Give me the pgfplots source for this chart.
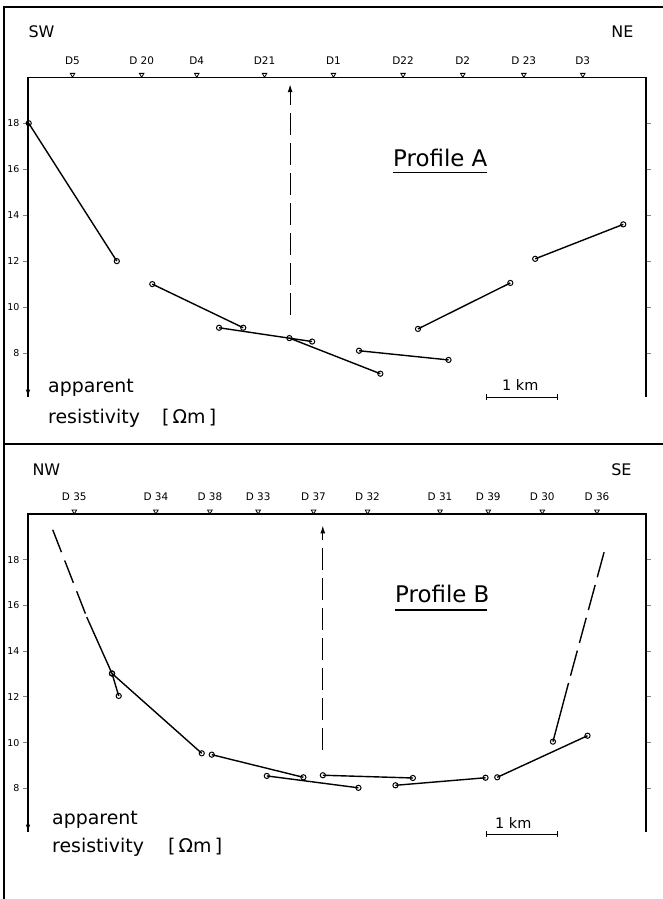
\documentclass[border=0pt]{standalone}
\usepackage{fontspec}
\setmainfont{DejaVu Sans}
\usepackage{pgfplots}
\pgfplotsset{compat=1.18}
\usetikzlibrary{arrows.meta}

\tikzset{frame3/.style={line width=1.2bp}}

% 1 px of the reference = 1 bp; x data in km from the left axis line
\pgfplotsset{
  profile/.style={
    scale only axis, width=618bp,
    xmin=0, xmax=8.70, ymin=6.1, ymax=20,
    axis line style={draw=none},
    tick align=outside, major tick length=5bp,
    ytick={8,10,...,18}, ytick pos=both, yticklabel pos=left,
    ytick style={line width=0.9bp},
    yticklabel style={font=\fontsize{9.5}{10}\selectfont},
    xtick style={draw=none}, xticklabel pos=upper,
    xticklabel style={font=\fontsize{10.5}{11}\selectfont, yshift=4.5bp},
    /pgf/number format/assume math mode=true,
    clip=false,
  },
  seg/.style={black, line width=1.4bp, mark=o, mark size=2.6bp,
    mark options={solid, fill=white, line width=1bp}},
  ext/.style={black, line width=1.4bp},
  station/.style={only marks, mark=triangle, mark size=2.6bp,
    mark options={yshift=2.6bp, rotate=180, line width=0.8bp, fill=white}},
  bore/.style={black, line width=1.2bp, dash pattern=on 22bp off 8bp,
    -{Latex[length=8bp,width=5bp]}},
}

\begin{document}
\begin{tikzpicture}
\useasboundingbox (0bp,0bp) rectangle (663bp,899bp);
\draw[line width=1.3bp] (4bp,0bp) -- (4bp,892bp) -- (663bp,892bp);
\draw[line width=1.3bp] (4bp,455bp) -- (663bp,455bp);

% ---------------- Profile A ----------------
\begin{axis}[profile, at={(28bp,502.3bp)}, anchor=south west, height=319.4bp,
    xtick={0.627,1.60,2.376,3.33,4.30,5.28,6.12,6.98,7.81},
    xticklabels={D5,D 20,D4,D21,D1,D22,D2,D 23,D3}]
  \draw[frame3] (rel axis cs:0,0) -- (rel axis cs:0,1) -- (rel axis cs:1,1) -- (rel axis cs:1,0);
  \draw[frame3, -{Latex[length=7bp,width=4.5bp]}] (axis cs:0,6.8) -- (axis cs:0,6.1);
  \addplot[station] coordinates {(0.627,20) (1.60,20) (2.376,20) (3.33,20) (4.30,20)
    (5.28,20) (6.12,20) (6.98,20) (7.81,20)};
  \addplot[bore] coordinates {(3.69,9.67) (3.69,19.7)};
  \addplot[seg] coordinates {(0.01,18.0) (1.25,12.0)};
  \addplot[seg] coordinates {(1.75,11.0) (3.03,9.1)};
  \addplot[seg] coordinates {(2.69,9.1) (4.00,8.5)};
  \addplot[seg] coordinates {(3.68,8.65) (4.96,7.1)};
  \addplot[seg] coordinates {(4.66,8.1) (5.92,7.7)};
  \addplot[seg] coordinates {(5.49,9.05) (6.79,11.05)};
  \addplot[seg] coordinates {(7.14,12.1) (8.38,13.6)};
\end{axis}
\node[anchor=west, font=\fontsize{16}{18}\selectfont] at (25bp,867bp) {SW};
\node[anchor=east, font=\fontsize{16}{18}\selectfont] at (637bp,867bp) {NE};
\node[anchor=base west, inner sep=0, font=\fontsize{23}{26}\selectfont] at (393bp,732bp) {Profile A};
\draw[line width=1.3bp] (393bp,726.5bp) -- (487bp,726.5bp);
\node[anchor=base west, inner sep=0, font=\fontsize{19}{22}\selectfont] at (48bp,506.7bp) {apparent};
\node[anchor=base west, inner sep=0, font=\fontsize{19}{22}\selectfont] at (48bp,475.7bp) {resistivity};
\node[anchor=base west, inner sep=0, font=\fontsize{19}{22}\selectfont] at (162bp,475.7bp) {[\,Ωm\,]};
\node[anchor=base west, inner sep=0, font=\fontsize{14.5}{16}\selectfont] at (502bp,508.3bp) {1 km};
\draw[line width=0.9bp] (486bp,502bp) -- (557bp,502bp);
\draw[line width=0.9bp] (486bp,499bp) -- (486bp,505bp) (557bp,499bp) -- (557bp,505bp);

% ---------------- Profile B ----------------
\begin{axis}[profile, at={(28bp,67.3bp)}, anchor=south west, height=317.7bp,
    xtick={0.652,1.80,2.56,3.24,4.02,4.78,5.80,6.48,7.24,8.01},
    xticklabels={D 35,D 34,D 38,D 33,D 37,D 32,D 31,D 39,D 30,D 36}]
  \draw[frame3] (rel axis cs:0,0) -- (rel axis cs:0,1) -- (rel axis cs:1,1) -- (rel axis cs:1,0);
  \draw[frame3, -{Latex[length=7bp,width=4.5bp]}] (axis cs:0,6.8) -- (axis cs:0,6.1);
  \addplot[station] coordinates {(0.652,20) (1.80,20) (2.56,20) (3.24,20) (4.02,20)
    (4.78,20) (5.80,20) (6.48,20) (7.24,20) (8.01,20)};
  \addplot[bore] coordinates {(4.15,9.67) (4.15,19.5)};
  \addplot[ext, dash pattern=on 24bp off 9bp] coordinates {(0.348,19.31) (0.827,15.49)};
  \addplot[ext, dash pattern=on 26bp off 8bp] coordinates {(8.11,18.33) (7.61,12.61)};
  \addplot[seg, mark indices={2,3}] coordinates {(0.827,15.49) (1.183,13.02) (1.277,12.04)};
  \addplot[seg] coordinates {(1.183,13.02) (2.446,9.53)};
  \addplot[seg] coordinates {(2.587,9.47) (3.877,8.48)};
  \addplot[seg] coordinates {(3.362,8.54) (4.652,8.02)};
  \addplot[seg] coordinates {(4.151,8.57) (5.418,8.45)};
  \addplot[seg] coordinates {(5.173,8.13) (6.441,8.46)};
  \addplot[seg] coordinates {(6.606,8.48) (7.877,10.3)};
  \addplot[seg, mark indices={1}] coordinates {(7.390,10.04) (7.61,12.61)};
\end{axis}
\node[anchor=west, font=\fontsize{16}{18}\selectfont] at (29bp,429.5bp) {NW};
\node[anchor=east, font=\fontsize{16}{18}\selectfont] at (635bp,429.5bp) {SE};
\node[anchor=base west, inner sep=0, font=\fontsize{23}{26}\selectfont] at (395bp,296bp) {Profile B};
\draw[line width=1.3bp] (395bp,289bp) -- (487bp,289bp);
\node[anchor=base west, inner sep=0, font=\fontsize{19}{22}\selectfont] at (52bp,74bp) {apparent};
\node[anchor=base west, inner sep=0, font=\fontsize{19}{22}\selectfont] at (52bp,46bp) {resistivity};
\node[anchor=base west, inner sep=0, font=\fontsize{19}{22}\selectfont] at (168bp,46bp) {[\,Ωm\,]};
\node[anchor=base west, inner sep=0, font=\fontsize{14.5}{16}\selectfont] at (495bp,70bp) {1 km};
\draw[line width=0.9bp] (486.7bp,65bp) -- (557.7bp,65bp);
\draw[line width=0.9bp] (486.7bp,62bp) -- (486.7bp,68bp) (557.7bp,62bp) -- (557.7bp,68bp);
\end{tikzpicture}
\end{document}
